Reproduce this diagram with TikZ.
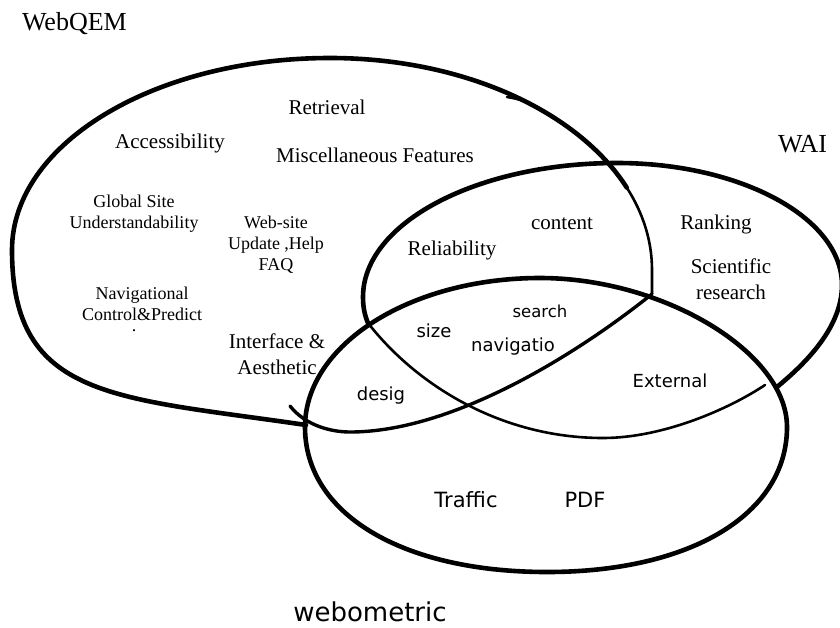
\documentclass[tikz,border=0pt]{standalone}
\usepackage{fontspec}
\setmainfont{Liberation Serif}
\newfontfamily\dvsans{DejaVu Sans}
\begin{document}
\begin{tikzpicture}[x=1pt,y=-1pt,
  ringthick/.style={line width=4.6pt,line cap=round,line join=round},
  ringmid/.style={line width=3.4pt,line cap=round,line join=round},
  ringthin/.style={line width=2.6pt,line cap=round,line join=round},
  every node/.style={inner sep=0pt,outer sep=0pt},
  ttl/.style={font=\fontsize{26}{30}\selectfont},
  lbl/.style={font=\fontsize{21}{26}\selectfont,align=center},
  sml/.style={font=\fontsize{18}{21}\selectfont,align=center},
  sns/.style={font=\dvsans\fontsize{18}{21}\selectfont},
  snsbig/.style={font=\dvsans\fontsize{21}{24}\selectfont},
  snssmall/.style={font=\dvsans\fontsize{16.5}{19}\selectfont},
  snstitle/.style={font=\dvsans\fontsize{26}{30}\selectfont}]
\useasboundingbox (0,0) rectangle (840,627);

% ---------- WebQEM ring (hand-drawn strokes) ----------
\coordinate (qA) at (306,425);
\coordinate (qL) at (12,250);
\coordinate (qT) at (330,58);
\coordinate (qS) at (626.7,187.5);
\coordinate (qK) at (507,97);
\coordinate (qM) at (557.75,120.1);
\coordinate (qR) at (652,270);
\coordinate (qC) at (652,294);
\coordinate (qB) at (350,432);
\coordinate (qE) at (290,406);
\draw[ringthick] (qA) .. controls (116,397) and (12,400) .. (qL)
  .. controls (12,144) and (154,58) .. (qT)
  .. controls (463.5,58) and (577.9,111.4) .. (qS);
\draw[ringthin] (qK) .. controls (527,100) and (537.4,106.7) .. (qM)
  .. controls (616,158.5) and (652,211.5) .. (qR) -- (qC);
\draw[ringmid] (qC) .. controls (572,358) and (450,432) .. (qB)
  .. controls (330,432) and (305,425) .. (qE);

% ---------- WAI ring ----------
\coordinate (wA) at (777,387);
\coordinate (wR) at (842,285);
\coordinate (wT) at (617,163);
\coordinate (wL) at (363,297);
\coordinate (wC) at (368,323);
\coordinate (wB) at (603,438);
\coordinate (wE) at (765,385);
\draw[ringthick] (wA) .. controls (801,367) and (842,330) .. (wR)
  .. controls (842,217.7) and (740.6,163) .. (wT)
  .. controls (476.8,163) and (363,223) .. (wL)
  .. controls (363,308) and (365,316) .. (wC);
\draw[ringthin] (wC) .. controls (418,387) and (503,438) .. (wB)
  .. controls (663,438) and (729,409) .. (wE);

% ---------- webometric ring ----------
\coordinate (mL) at (305,427);
\coordinate (mT) at (540,278);
\coordinate (mR) at (787,427);
\coordinate (mB) at (547,572);
\draw[ringthick] (mL) .. controls (305,344.7) and (410.3,278) .. (mT)
  .. controls (663.5,278) and (787,352.5) .. (mR)
  .. controls (787,514) and (691,572) .. (mB)
  .. controls (402,572) and (305,514) .. (mL) -- cycle;

% ---------- titles ----------
\node[ttl,anchor=base west] (webqem) at (22,30) {WebQEM};
\node[ttl,anchor=base west] (wai) at (778,152) {WAI};
\node[snstitle,anchor=base] (webometric) at (370,621) {webometric};

% ---------- WebQEM labels (anchor = baseline of last line) ----------
\node[lbl,anchor=base] (retrieval) at (327,114) {Retrieval};
\node[lbl,anchor=base] (access) at (170,148) {Accessibility};
\node[lbl,anchor=base] (misc) at (375,162) {Miscellaneous Features};
\node[sml,anchor=base] (global) at (134,228) {Global Site\\Understandability};
\node[sml,anchor=base] (website) at (276,270) {Web-site\\Update ,Help\\FAQ};
\node[sml,anchor=base] (nav) at (142,331) {Navigational\\Control\&Predict\\[-10pt]\hspace*{-16pt}.};
\node[lbl,anchor=base] (iface) at (277,374) {Interface \&\\Aesthetic};

% ---------- WAI labels ----------
\node[lbl,anchor=base] (reliab) at (452,255) {Reliability};
\node[lbl,anchor=base] (content) at (562,229) {content};
\node[lbl,anchor=base] (ranking) at (716,229) {Ranking};
\node[lbl,anchor=base] (sci) at (731,299) {Scientific\\research};

% ---------- webometric labels ----------
\node[snssmall,anchor=base] (search) at (540,317) {search};
\node[sns,anchor=base] (size) at (434,337) {size};
\node[sns,anchor=base] (navig) at (513,351) {navigatio};
\node[sns,anchor=base] (external) at (670,387) {External};
\node[sns,anchor=base] (desig) at (381,400) {desig};
\node[snsbig,anchor=base] (traffic) at (466,507) {Traffic};
\node[snsbig,anchor=base] (pdf) at (585,507) {PDF};
\end{tikzpicture}
\end{document}
